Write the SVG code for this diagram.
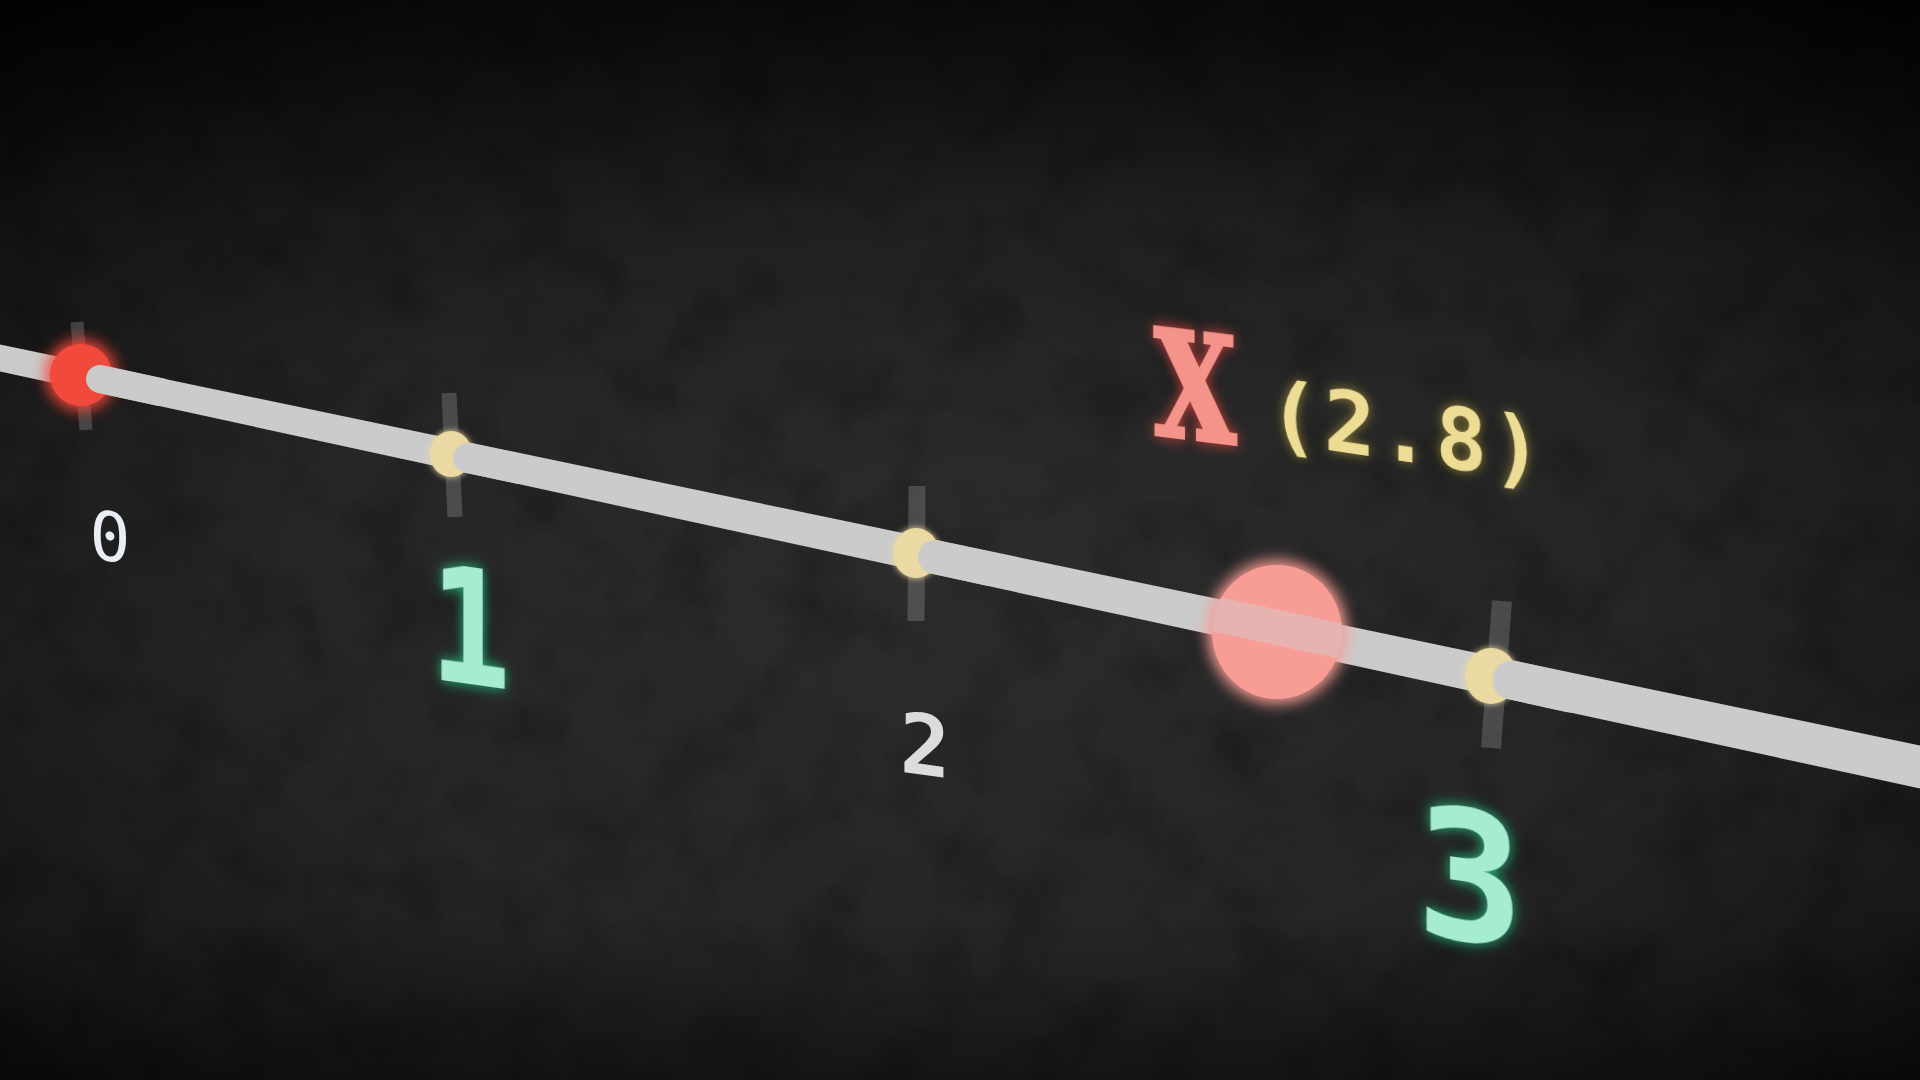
<svg xmlns="http://www.w3.org/2000/svg" width="1920" height="1080" viewBox="0 0 1920 1080">
<defs>
<style>
.tick{stroke:#9a9a9a;stroke-opacity:0.32;stroke-linecap:butt}
.ydot{fill:#ead9a2}
.mono{font-family:"DejaVu Sans Mono","Liberation Mono",monospace}
.bold{font-weight:bold}
.green{fill:#a6ecd0;filter:url(#glowG)}
.white{fill:#dcdcdc}
</style>
<radialGradient id="bg" cx="50%" cy="55%" r="72%">
<stop offset="0" stop-color="#2c2c2c"/>
<stop offset="0.5" stop-color="#252525"/>
<stop offset="0.8" stop-color="#181818"/>
<stop offset="1" stop-color="#080808"/>
</radialGradient>
<linearGradient id="topShade" x1="0" y1="0" x2="0" y2="1">
<stop offset="0" stop-color="#000" stop-opacity="0.6"/>
<stop offset="0.2" stop-color="#000" stop-opacity="0.15"/>
<stop offset="0.4" stop-color="#000" stop-opacity="0"/>
<stop offset="0.85" stop-color="#000" stop-opacity="0"/>
<stop offset="1" stop-color="#000" stop-opacity="0.35"/>
</linearGradient>
<filter id="noise" x="0" y="0" width="100%" height="100%">
<feTurbulence type="fractalNoise" baseFrequency="0.014" numOctaves="5" seed="7"/>
<feColorMatrix type="matrix" values="0 0 0 0 0  0 0 0 0 0  0 0 0 0 0  2.2 0 0 0 -1.0"/>
</filter>
<filter id="glowR" x="-80%" y="-80%" width="260%" height="260%">
<feGaussianBlur in="SourceGraphic" stdDeviation="9" result="b"/>
<feMerge><feMergeNode in="b"/><feMergeNode in="b"/><feMergeNode in="SourceGraphic"/></feMerge>
</filter>
<filter id="glowG" x="-60%" y="-60%" width="220%" height="220%">
<feGaussianBlur in="SourceAlpha" stdDeviation="7" result="a"/>
<feFlood flood-color="#1fd08a" flood-opacity="0.9"/>
<feComposite in2="a" operator="in" result="g"/>
<feMerge><feMergeNode in="g"/><feMergeNode in="SourceGraphic"/></feMerge>
</filter>
<filter id="glowX" x="-60%" y="-60%" width="220%" height="220%">
<feGaussianBlur in="SourceAlpha" stdDeviation="7" result="a"/>
<feFlood flood-color="#ff4a40" flood-opacity="0.75"/>
<feComposite in2="a" operator="in" result="g"/>
<feMerge><feMergeNode in="g"/><feMergeNode in="SourceGraphic"/></feMerge>
</filter>
<filter id="glowY" x="-60%" y="-60%" width="220%" height="220%">
<feGaussianBlur in="SourceAlpha" stdDeviation="6" result="a"/>
<feFlood flood-color="#d8c040" flood-opacity="0.6"/>
<feComposite in2="a" operator="in" result="g"/>
<feMerge><feMergeNode in="g"/><feMergeNode in="SourceGraphic"/></feMerge>
</filter>
<filter id="softY" x="-50%" y="-50%" width="200%" height="200%">
<feGaussianBlur in="SourceGraphic" stdDeviation="3" result="b"/>
<feMerge><feMergeNode in="b"/><feMergeNode in="SourceGraphic"/></feMerge>
</filter>
<clipPath id="bigClip"><ellipse cx="1277" cy="632" rx="65" ry="67"/></clipPath>
</defs>

<rect width="1920" height="1080" fill="url(#bg)"/>
<rect width="1920" height="1080" filter="url(#noise)" opacity="0.25"/>
<rect width="1920" height="1080" fill="url(#topShade)"/>

<g id="ticks">
<line class="tick" x1="77" y1="322" x2="86" y2="430" stroke-width="13"/>
<line class="tick" x1="449" y1="393" x2="455" y2="517" stroke-width="15"/>
<line class="tick" x1="917" y1="486" x2="916" y2="621" stroke-width="17"/>
<line class="tick" x1="1502" y1="601" x2="1491" y2="748" stroke-width="20"/>
</g>

<g id="connectors">
<polygon id="axis" points="0,344.5 1920,745.5 1920,788.5 0,371.5" fill="#cbcbcb"/>
</g>

<g id="point-0">
<circle cx="81" cy="375" r="31" fill="#f2483e" filter="url(#glowR)"/>
<line x1="100" y1="379" x2="160" y2="392" stroke="#cbcbcb" stroke-width="28" stroke-linecap="round"/>
</g>

<g id="tick-1">
<ellipse class="ydot" cx="451" cy="454" rx="21" ry="23" filter="url(#softY)"/>
<line x1="468" y1="458" x2="520" y2="469" stroke="#cbcbcb" stroke-width="30" stroke-linecap="round"/>
</g>

<g id="tick-2">
<ellipse class="ydot" cx="916" cy="553" rx="23" ry="25" filter="url(#softY)"/>
<line x1="935" y1="557" x2="990" y2="569" stroke="#cbcbcb" stroke-width="34" stroke-linecap="round"/>
</g>

<g id="tick-3">
<ellipse class="ydot" cx="1491" cy="676" rx="26" ry="28" filter="url(#softY)"/>
<line x1="1512" y1="680" x2="1570" y2="693" stroke="#cbcbcb" stroke-width="39" stroke-linecap="round"/>
</g>

<g id="point-x">
<ellipse cx="1277" cy="632" rx="65" ry="67" fill="#f89c96" filter="url(#glowR)"/>
<polygon points="1200,593 1360,627 1360,663 1200,629" fill="#d0d0d0" opacity="0.45" clip-path="url(#bigClip)"/>
</g>

<g id="label-0">
<text class="mono" transform="translate(110,561) skewY(8)" text-anchor="middle" font-size="68" fill="#e8eef4">0</text>
</g>
<g id="label-1">
<text class="mono bold green" transform="translate(470,684) skewY(8) scale(0.85,1)" text-anchor="middle" font-size="160">1</text>
</g>
<g id="label-2">
<text class="mono bold white" transform="translate(925,775) skewY(8)" text-anchor="middle" font-size="84">2</text>
</g>
<g id="label-3">
<text class="mono bold green" transform="translate(1470,940) skewY(8)" text-anchor="middle" font-size="180">3</text>
</g>
<g id="label-x">
<text transform="translate(1195,439) skewY(7) scale(0.8,1)" text-anchor="middle" font-family="'DejaVu Serif Condensed','DejaVu Serif',serif" font-weight="bold" font-size="146" fill="#f4938a" stroke="#f4938a" stroke-width="4" stroke-linejoin="miter" filter="url(#glowX)">X</text>
</g>
<g id="label-value">
<text class="mono bold" transform="translate(1268,441) skewY(8.5)" font-size="86" letter-spacing="4" fill="#ecdc94" filter="url(#glowY)">(2.8)</text>
</g>
</svg>
